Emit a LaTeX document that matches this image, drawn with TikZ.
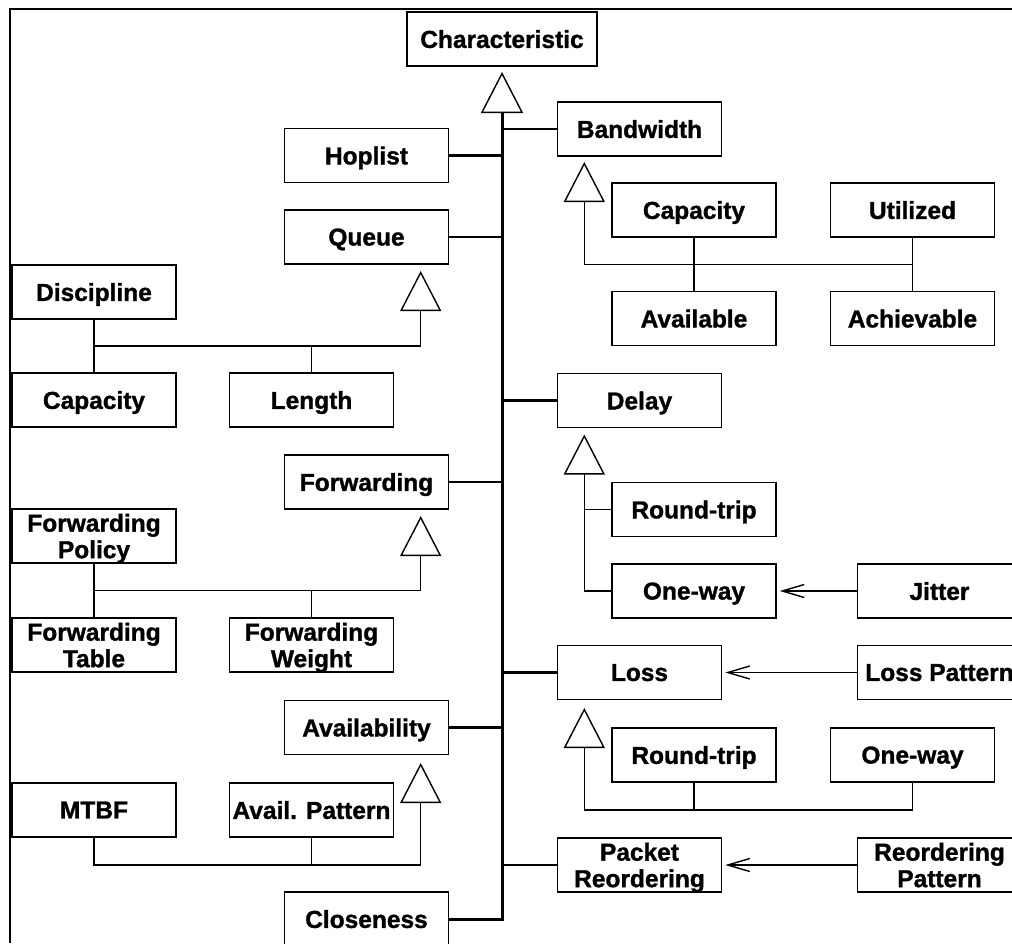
\documentclass[tikz,border=0pt]{standalone}
\usepackage{fontspec}
\setmainfont{Liberation Sans}[BoldFeatures={FakeBold=1.2}]
\usetikzlibrary{arrows.meta, calc}

\begin{document}
\begin{tikzpicture}[x=1pt, y=-1pt,
  box/.style={draw, line width=1.6pt, minimum width=164pt, minimum height=54pt,
    inner sep=0pt, align=center, text depth=0pt,
    font=\fontsize{24.5}{26.5}\selectfont\bfseries},
  trunk/.style={line width=3pt},
  link/.style={line width=2.6pt},
  gen/.style={line width=1.4pt},
  isa/.style={line width=1.4pt, -{Triangle[open, length=40pt, width=41pt, line width=1.4pt]}},
  assoc/.style={line width=1.4pt, -{Straight Barb[length=22pt, width=13pt, line width=1.4pt]}, shorten >=3pt},
  frame/.style={line width=2pt}
]
  \useasboundingbox (0,0) rectangle (1012,943);
  \clip (0,0) rectangle (1012,943);

  % Frame
  \draw[frame] (9.5,943) |- (1012,8.5);

  % Nodes
  \node[box, minimum width=190pt] (char) at (502,39) {Characteristic};

  \node[box] (hop) at (366.5,155.5) {Hoplist};
  \node[box] (queue) at (366.5,237) {Queue};
  \node[box] (disc) at (94,292) {Discipline};
  \node[box] (qcap) at (94,400) {Capacity};
  \node[box] (len) at (311.5,400) {Length};
  \node[box] (fwd) at (366.5,482) {Forwarding};
  \node[box] (fpol) at (94,536) {Forwarding\\Policy};
  \node[box] (ftab) at (94,645) {Forwarding\\Table};
  \node[box] (fwgt) at (311.5,645) {Forwarding\\Weight};
  \node[box] (avl) at (366.5,727.5) {Availability};
  \node[box] (mtbf) at (94,810) {MTBF};
  \node[box] (apat) at (311.5,810) {Avail. Pattern};
  \node[box] (close) at (366.5,919) {Closeness};

  \node[box] (bw) at (639.5,129) {Bandwidth};
  \node[box] (bcap) at (694,210) {Capacity};
  \node[box] (util) at (912.5,210) {Utilized};
  \node[box] (avail) at (694,318.5) {Available};
  \node[box] (achv) at (912.5,318.5) {Achievable};
  \node[box] (delay) at (639.5,400.5) {Delay};
  \node[box] (drt) at (694,509.5) {Round-trip};
  \node[box] (dow) at (694,591) {One-way};
  \node[box] (jit) at (939.5,591) {Jitter};
  \node[box] (loss) at (639.5,672.5) {Loss};
  \node[box] (lpat) at (939.5,672.5) {Loss Pattern};
  \node[box] (lrt) at (694,755) {Round-trip};
  \node[box] (low) at (912.5,755) {One-way};
  \node[box] (reord) at (639.5,865) {Packet\\Reordering};
  \node[box] (rpat) at (939.5,865) {Reordering\\Pattern};

  % Triangle tips
  \coordinate (ctip) at (502,72);
  \coordinate (qtip) at (420.7,271);
  \coordinate (ftip) at (420.7,516);
  \coordinate (atip) at (420.7,763);
  \coordinate (btip) at (584.3,162);
  \coordinate (dtip) at (584.3,434.5);
  \coordinate (ltip) at (584.3,708);

  % Trunk
  \draw[trunk, -{Triangle[open, length=41pt, width=42pt, line width=1.4pt]}] (close.east) -| (ctip);
  \foreach \n in {hop, queue, fwd, avl}
    \draw[link] (\n.east) -- (\n.east -| char.south);
  \foreach \n in {bw, delay, loss, reord}
    \draw[link] (\n.west) -- (\n.west -| char.south);

  % Queue
  \coordinate (qbus) at ($(disc.south)!0.5!(qcap.north)$);
  \draw[gen] (disc.south) -- (qcap.north);
  \draw[gen] (len.north) -- (len.north |- qbus);
  \draw[isa] (qbus) -| (qtip);

  % Forwarding
  \coordinate (fbus) at ($(fpol.south)!0.5!(ftab.north)$);
  \draw[gen] (fpol.south) -- (ftab.north);
  \draw[gen] (fwgt.north) -- (fwgt.north |- fbus);
  \draw[isa] (fbus) -| (ftip);

  % Availability
  \draw[gen] (apat.south) -- ++(0,27);
  \draw[isa] (mtbf.south) -- ++(0,27) -| (atip);

  % Bandwidth
  \coordinate (bbus) at ($(util.south)!0.5!(achv.north)$);
  \draw[gen] (bcap.south) -- (avail.north);
  \draw[gen] (util.south) -- (achv.north);
  \draw[isa] (bbus) -| (btip);

  % Delay
  \draw[gen] (drt.west) -- (drt.west -| dtip);
  \draw[isa] (dow.west) -| (dtip);
  \draw[assoc] (jit.west) -- (dow.east);

  % Loss
  \draw[gen] (lrt.south) -- ++(0,27);
  \draw[isa] (low.south) -- ++(0,27) -| (ltip);
  \draw[assoc] (lpat.west) -- (loss.east);

  % Reordering
  \draw[assoc] (rpat.west) -- (reord.east);
\end{tikzpicture}
\end{document}
